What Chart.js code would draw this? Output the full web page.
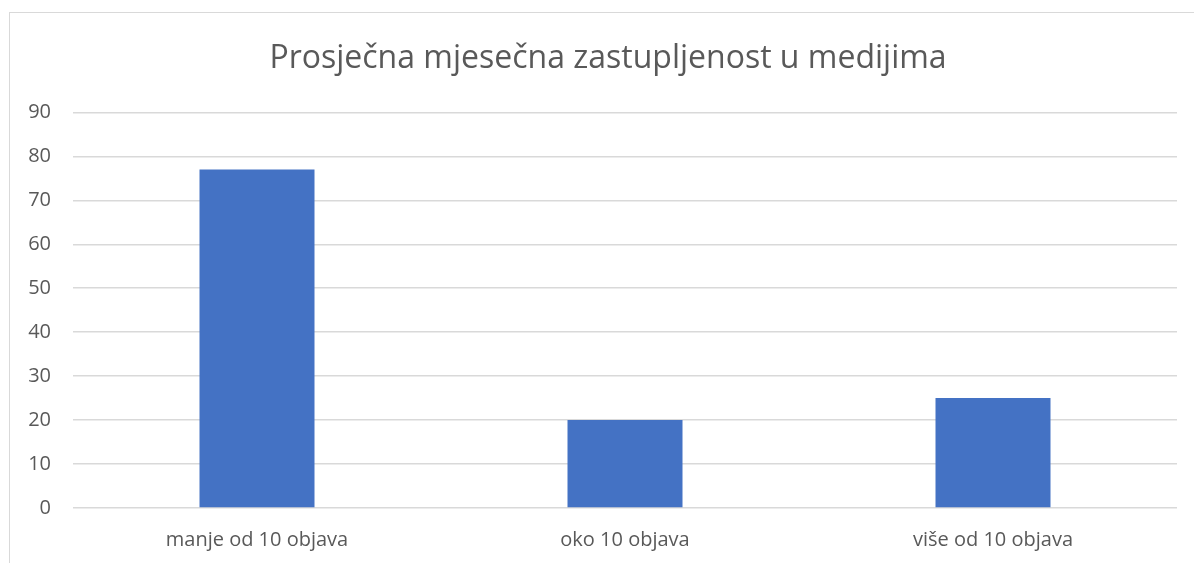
<!DOCTYPE html>
<html>
<head>
<meta charset="utf-8">
<script src="https://cdn.jsdelivr.net/npm/chart.js@4/dist/chart.umd.min.js"></script>
<style>
  html, body { margin: 0; padding: 0; background: #fff; }
  #wrap { position: relative; width: 1194px; height: 563px; overflow: hidden; }
  #frame { position: absolute; left: 9px; top: 12px; width: 1300px; height: 700px;
           border-left: 1.5px solid #d9d9d9; border-top: 1.5px solid #d9d9d9; }
  canvas { position: absolute; left: 0; top: 0; }
</style>
</head>
<body>
<div id="wrap">
  <div id="frame"></div>
  <canvas id="c" width="1194" height="563"></canvas>
</div>
<script>
const titleText = "Prosječna mjesečna zastupljenost u medijima";
const categories = ["manje od 10 objava", "oko 10 objava", "više od 10 objava"];
const values = [77, 20, 25];
const yTicks = [0, 10, 20, 30, 40, 50, 60, 70, 80, 90];

const FONT = "'Open Sans', 'Liberation Sans', sans-serif";
const TXT = "#595959";

const shiftTitle = {
  id: "shiftTitle",
  afterLayout(chart) {
    if (chart.titleBlock) { chart.titleBlock.left += 29; }
  }
};

new Chart(document.getElementById("c"), {
  type: "bar",
  data: {
    labels: categories,
    datasets: [{
      data: values,
      backgroundColor: "#4472c4",
      borderWidth: 0,
      barPercentage: 1,
      categoryPercentage: 0.3125
    }]
  },
  plugins: [shiftTitle],
  options: {
    responsive: false,
    animation: false,
    devicePixelRatio: 1,
    layout: { padding: { left: 10, right: 17, top: 0, bottom: 0 } },
    plugins: {
      legend: { display: false },
      tooltip: { enabled: false },
      title: {
        display: true,
        text: titleText,
        color: TXT,
        font: { family: FONT, size: 32, weight: "normal" },
        padding: { top: 40, bottom: 34 }
      }
    },
    scales: {
      x: {
        afterFit: (s) => { s.height = 55; },
        grid: { display: false, drawTicks: false },
        border: { display: false },
        ticks: { color: TXT, font: { family: FONT, size: 20 }, padding: 20 }
      },
      y: {
        min: 0, max: 90,
        afterBuildTicks: (s) => { s.ticks = yTicks.map(v => ({ value: v })); },
        afterFit: (s) => { s.width = 63; },
        grid: { color: "#d9d9d9", lineWidth: 1.5, drawTicks: false },
        border: { display: false },
        ticks: { color: TXT, font: { family: FONT, size: 20 }, padding: 22 }
      }
    }
  }
});
</script>
</body>
</html>
